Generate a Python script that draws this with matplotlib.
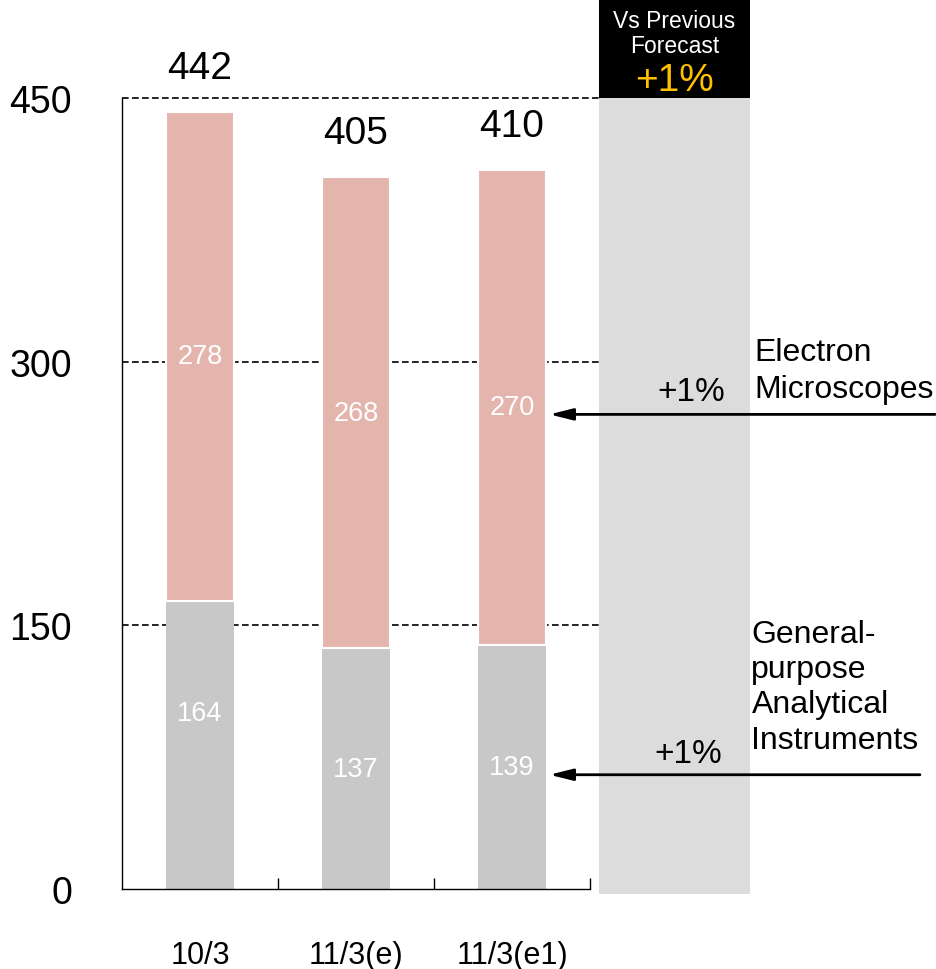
import matplotlib.pyplot as plt
from matplotlib.patches import Rectangle

plt.rcParams['font.family'] = ['Liberation Sans', 'DejaVu Sans']

# dados
periodos = ['10/3', '11/3(e)', '11/3(e1)']
analiticos = [164, 137, 139]
microscopios = [278, 268, 270]
totais = [442, 405, 410]
yticks = [0, 150, 300, 450]

cor_rosa = '#E4B5AD'
cor_cinza = '#C8C8C8'
cor_caixa = '#DCDCDC'

fig = plt.figure(figsize=(9.37, 9.70), dpi=100)
ax = fig.add_axes([122 / 937, 80 / 970, 815 / 937, 890 / 970])
ax.set_xlim(-0.5, -0.5 + 815 / 156)
ax.set_ylim(0, 890 / 1.7578)

x = list(range(len(periodos)))
largura = 0.436

# caixa cinza do lado direito + cabeçalho preto
cx0, cx1 = 2.558, 3.526
ax.add_patch(Rectangle((cx0, -2.8), cx1 - cx0, 452.8, facecolor=cor_caixa,
                       edgecolor='none', zorder=0, clip_on=False))
ax.add_patch(Rectangle((cx0, 450), cx1 - cx0, 60, facecolor='black',
                       edgecolor='none', zorder=0, clip_on=False))
cx = (cx0 + cx1) / 2
ax.text(cx, 494, 'Vs Previous', color='white', fontsize=16.5, ha='center', va='center')
ax.text(cx, 480, 'Forecast', color='white', fontsize=16.5, ha='center', va='center')
ax.text(cx, 460, '+1%', color='#FFC000', fontsize=28, ha='center', va='center')

# linhas tracejadas
for v in yticks[1:]:
    ax.plot([-0.5, cx0], [v, v], color='black', lw=1.2, linestyle=(0, (4, 2)), zorder=1)

# barras empilhadas
ax.bar(x, analiticos, width=largura, color=cor_cinza, zorder=2)
ax.bar(x, microscopios, width=largura, bottom=analiticos, color=cor_rosa,
       edgecolor='white', linewidth=1.5, zorder=2)

for i in x:
    yb = analiticos[i] / 2
    if i == 0:
        yb = 100
    ax.text(i, yb, str(analiticos[i]), color='white', fontsize=19.5, ha='center', va='center', zorder=3)
    ax.text(i, analiticos[i] + microscopios[i] / 2, str(microscopios[i]), color='white',
            fontsize=19.5, ha='center', va='center', zorder=3)
    ax.annotate(str(totais[i]), xy=(i, analiticos[i] + microscopios[i]), xytext=(0, 32),
                textcoords='offset points', ha='center', va='center', fontsize=28)

# setas e rótulos da direita
seta = dict(arrowstyle='-|>,head_length=1.4,head_width=0.35', color='black', lw=2,
            shrinkA=0, shrinkB=0)
ax.annotate('', xy=(2.24, 270), xytext=(4.712, 270), arrowprops=seta, annotation_clip=False)
ax.annotate('', xy=(2.24, 65), xytext=(4.615, 65), arrowprops=seta, annotation_clip=False)
ax.text(3.365, 283, '+1%', fontsize=24, ha='right', va='center')
ax.text(3.346, 77, '+1%', fontsize=24, ha='right', va='center')
ax.text(3.553, 295, 'Electron\nMicroscopes', fontsize=23, ha='left', va='center', linespacing=1.3)
ax.text(3.535, 115, 'General-\npurpose\nAnalytical\nInstruments', fontsize=23, ha='left',
        va='center', linespacing=1.23)

# eixos
for s in ['top', 'right']:
    ax.spines[s].set_visible(False)
ax.spines['left'].set_bounds(0, 450)
ax.spines['bottom'].set_bounds(-0.5, 2.5)
ax.spines['left'].set_linewidth(1)
ax.spines['bottom'].set_linewidth(1)

ax.set_yticks(yticks)
ax.set_yticklabels([str(v) for v in yticks])
ax.tick_params(axis='y', length=0, pad=36, labelsize=27)
ax.set_xticks(x)
ax.set_xticklabels(periodos)
ax.tick_params(axis='x', length=0, pad=37, labelsize=22)
ax.set_xticks([0.5, 1.5, 2.5], minor=True)
ax.tick_params(axis='x', which='minor', direction='in', length=8, width=1)

fig.savefig('out.png', dpi=100)
